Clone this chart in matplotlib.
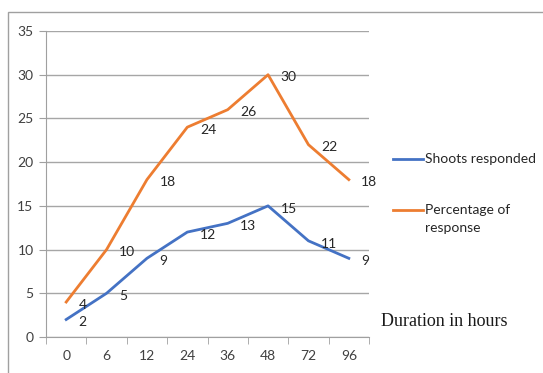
import matplotlib.pyplot as plt
from matplotlib.patches import Rectangle
from matplotlib.lines import Line2D

hours = ["0", "6", "12", "24", "36", "48", "72", "96"]
shoots = [2, 5, 9, 12, 13, 15, 11, 9]
percentage = [4, 10, 18, 24, 26, 30, 22, 18]
series_names = ["Shoots responded", "Percentage of\nresponse"]

BLUE = "#4472C4"
ORANGE = "#ED7D31"
W, H = 543, 373

plt.rcParams["font.family"] = ["Lato", "DejaVu Sans"]

fig = plt.figure(figsize=(W / 100, H / 100), dpi=100)
fig.patches.append(Rectangle((8 / W, -0.1), 1.2, 1 - 12 / H + 0.1,
                             transform=fig.transFigure, fill=False,
                             edgecolor="#a0a0a0", linewidth=1))

ax = fig.add_axes([46 / W, 1 - 337 / H, (369 - 46) / W, (337 - 31) / H])
x = list(range(len(hours)))

for vals, col in [(shoots, BLUE), (percentage, ORANGE)]:
    ax.plot(x, vals, color=col, lw=2)
    for xi, v in zip(x, vals):
        ax.annotate(str(v), (xi, v), xytext=(9, -2), textcoords="offset points",
                    ha="left", va="center", fontsize=10, color="#262626")

ax.set_xlim(-0.5, len(hours) - 0.5)
ax.set_ylim(0, 35)
ax.set_yticks(range(0, 36, 5))
ax.set_xticks(x)
ax.set_xticklabels(hours)
ax.set_xticks([i - 0.5 for i in range(len(hours) + 1)], minor=True)
ax.tick_params(axis="x", which="major", length=0, pad=9, labelsize=10, labelcolor="#404040")
ax.tick_params(axis="x", which="minor", length=5, color="#a0a0a0", direction="out")
ax.tick_params(axis="y", length=5, color="#a0a0a0", labelsize=10, labelcolor="#404040", pad=4)

ax.grid(axis="y", color="#a6a6a6", lw=1)
ax.set_axisbelow(True)
for s in ["top", "right"]:
    ax.spines[s].set_visible(False)
for s in ["left", "bottom"]:
    ax.spines[s].set_color("#a0a0a0")

# legend drawn by hand so the handle sits on the first text line
for name, col, ytop in [(series_names[0], BLUE, 159), (series_names[1], ORANGE, 210)]:
    fy = 1 - ytop / H
    fig.add_artist(Line2D([393 / W, 423 / W], [fy, fy], color=col, lw=2,
                          transform=fig.transFigure))
    fig.text(425 / W, fy + 6 / H, name, fontsize=10, va="top", ha="left",
             color="#262626", linespacing=1.65)

fig.text(381 / W, 1 - 322 / H, "Duration in hours", family="Liberation Serif",
         fontsize=13, va="center", ha="left", color="#1a1a1a")

fig.savefig("out.png", dpi=100)
